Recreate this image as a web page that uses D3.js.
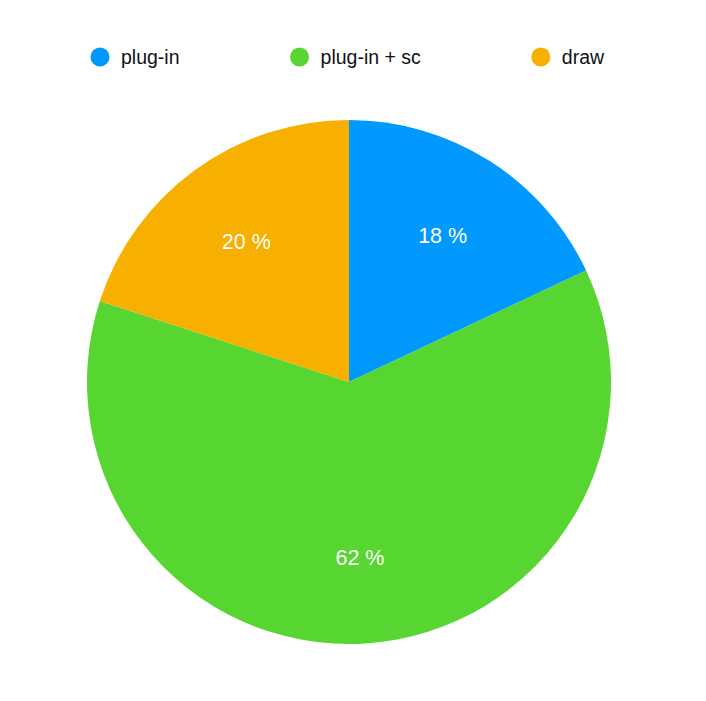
<!DOCTYPE html>
<html>
<head>
<meta charset="utf-8">
<script src="https://cdn.jsdelivr.net/npm/d3@7"></script>
<style>
  body { margin: 0; background: #fff; }
  svg { display: block; font-family: "Helvetica Neue", Helvetica, "Liberation Sans", Arial, sans-serif; }
</style>
</head>
<body>
<svg width="706" height="701"></svg>
<script>
// slice data, clockwise from 12 o'clock
const labels = ["plug-in", "plug-in + sc", "draw"];
const values = [18, 62, 20];
const colors = ["#0299FF", "#57D531", "#F8B000"];

const svg = d3.select("svg"),
    width = +svg.attr("width"),
    height = +svg.attr("height");

const cx = 349, cy = 382, radius = 262;

const color = d3.scaleOrdinal().domain(labels).range(colors);

const pie = d3.pie().sort(null).value(d => d.value);
const arcs = pie(labels.map((l, i) => ({label: l, value: values[i]})));

const arc = d3.arc().innerRadius(0).outerRadius(radius);
const labelArc = d3.arc().innerRadius(radius * 0.667).outerRadius(radius * 0.667);

const g = svg.append("g").attr("transform", `translate(${cx},${cy})`);

g.selectAll("path")
  .data(arcs)
  .join("path")
  .attr("d", arc)
  .attr("fill", d => color(d.data.label));

g.selectAll("text")
  .data(arcs)
  .join("text")
  .attr("transform", d => `translate(${labelArc.centroid(d)})`)
  .attr("text-anchor", "middle")
  .attr("dy", "0.38em")
  .attr("fill", "#fff")
  .attr("font-size", 21.5)
  .text(d => d.data.value + " %");

// legend, items flow left to right
const legend = svg.append("g").attr("transform", "translate(100,57)");
let x = 0;
labels.forEach(l => {
  const item = legend.append("g").attr("transform", `translate(${x},0)`);
  item.append("circle").attr("r", 9.5).attr("fill", color(l));
  const t = item.append("text")
    .attr("x", 21)
    .attr("dy", "0.36em")
    .attr("font-size", 19.5)
    .attr("fill", "#111")
    .text(l);
  x += 21 + t.node().getComputedTextLength() + 120;
});
</script>
</body>
</html>
